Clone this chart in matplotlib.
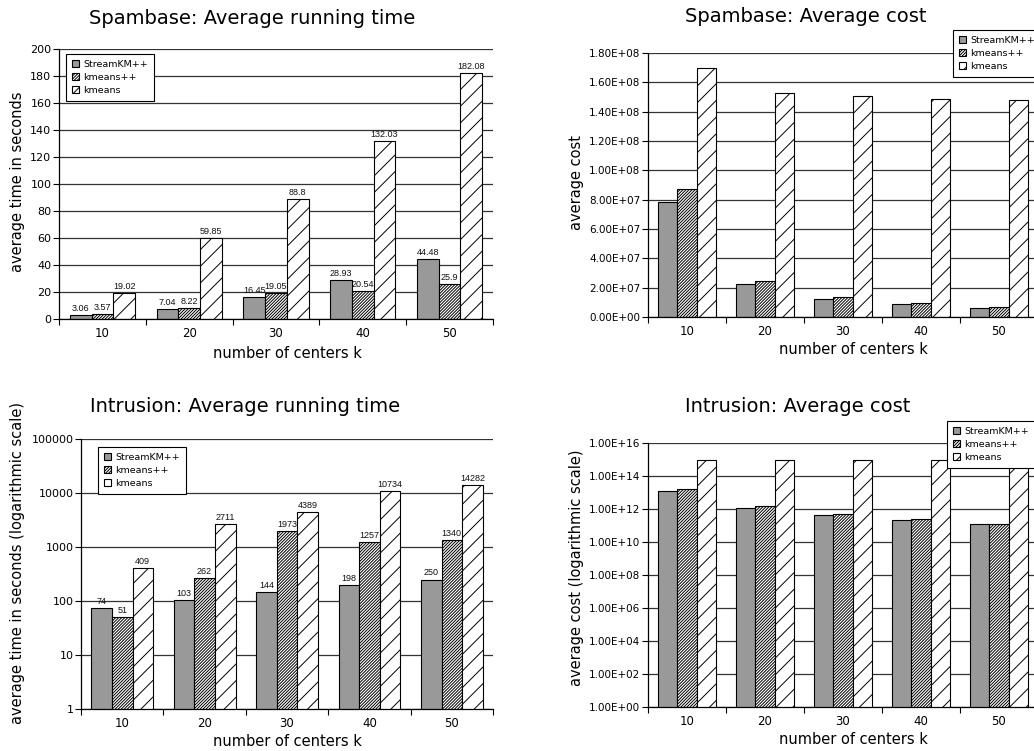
import numpy as np
import matplotlib
matplotlib.use('Agg')
import matplotlib.pyplot as plt
from matplotlib.ticker import NullLocator
from matplotlib.patches import Patch

# ---------------- data ----------------
categories = ['10', '20', '30', '40', '50']
series = ['StreamKM++', 'kmeans++', 'kmeans']

spam_time_streamkm = [3.06, 7.04, 16.45, 28.93, 44.48]
spam_time_kmeanspp = [3.57, 8.22, 19.05, 20.54, 25.9]
spam_time_kmeans = [19.02, 59.85, 88.8, 132.03, 182.08]

spam_cost_streamkm = [7.82e7, 2.28e7, 1.26e7, 8.7e6, 6.4e6]
spam_cost_kmeanspp = [8.71e7, 2.46e7, 1.35e7, 9.4e6, 6.6e6]
spam_cost_kmeans = [1.698e8, 1.527e8, 1.504e8, 1.483e8, 1.481e8]

intr_time_streamkm = [74, 103, 144, 198, 250]
intr_time_kmeanspp = [51, 262, 1973, 1257, 1340]
intr_time_kmeans = [409, 2711, 4389, 10734, 14282]

intr_cost_streamkm = [1.3e13, 1.2e12, 4.4e11, 2.1e11, 1.15e11]
intr_cost_kmeanspp = [1.7e13, 1.5e12, 5.3e11, 2.4e11, 1.3e11]
intr_cost_kmeans = [9.5e14, 9.5e14, 9.5e14, 9.5e14, 9.5e14]

spam_time_ticks = [0, 20, 40, 60, 80, 100, 120, 140, 160, 180, 200]
spam_time_ticklabels = ['0', '20', '40', '60', '80', '100', '120', '140', '160', '180', '200']
spam_cost_ticks = [0, 2e7, 4e7, 6e7, 8e7, 1e8, 1.2e8, 1.4e8, 1.6e8, 1.8e8]
spam_cost_ticklabels = ['0.00E+00', '2.00E+07', '4.00E+07', '6.00E+07', '8.00E+07',
                        '1.00E+08', '1.20E+08', '1.40E+08', '1.60E+08', '1.80E+08']
intr_time_ticks = [1, 10, 100, 1000, 10000, 100000]
intr_time_ticklabels = ['1', '10', '100', '1000', '10000', '100000']
intr_cost_ticks = [1e0, 1e2, 1e4, 1e6, 1e8, 1e10, 1e12, 1e14, 1e16]
intr_cost_ticklabels = ['1.00E+00', '1.00E+02', '1.00E+04', '1.00E+06', '1.00E+08',
                        '1.00E+10', '1.00E+12', '1.00E+14', '1.00E+16']

titles = ['Spambase: Average running time', 'Spambase: Average cost',
          'Intrusion: Average running time', 'Intrusion: Average cost']
ylabels = ['average time in seconds', 'average cost',
           'average time in seconds (logarithmic scale)', 'average cost (logarithmic scale)']
xlabel = 'number of centers k'

# ---------------- figure ----------------
W, H = 1034, 751
plt.rcParams['hatch.linewidth'] = 0.7
plt.rcParams['font.family'] = 'DejaVu Sans'
fig = plt.figure(figsize=(W / 100, H / 100), dpi=100)


def px_rect(l, r, t, b):
    return [l / W, 1 - b / H, (r - l) / W, (b - t) / H]


fills = ['#999999', 'white', 'white']
hatches = ['', '/' * 11, '//']


def draw(ax, groups, log, ticks, ticklabels, ylim, show_labels, ytick_fs, xtick_fs, legend_xy):
    x = np.arange(len(categories))
    w = 0.25
    if log:
        ax.set_yscale('log')
    for j, vals in enumerate(groups):
        bars = ax.bar(x + (j - 1) * w, vals, w, facecolor=fills[j], edgecolor='black',
                      linewidth=0.8, label=series[j], zorder=2)
        for p in bars.patches:
            p.set_hatch(hatches[j])
        if show_labels:
            for xi, v in zip(x, vals):
                ax.annotate(f'{v:g}', xy=(xi + (j - 1) * w, v), xytext=(0, 1.5),
                            textcoords='offset points', ha='center', va='bottom',
                            fontsize=6.5, family='Liberation Sans', color='#111111')
    handles = [Patch(facecolor=fills[j], edgecolor='black', linewidth=0.8,
                     hatch=hatches[j], label=series[j]) for j in range(3)]
    ax.set_xlim(-0.5, len(categories) - 0.5)
    ax.set_ylim(*ylim)
    ax.set_yticks(ticks)
    ax.set_yticklabels(ticklabels, fontsize=ytick_fs)
    ax.yaxis.set_minor_locator(NullLocator())
    ax.set_xticks(x)
    ax.set_xticklabels(categories, fontsize=xtick_fs)
    ax.set_xticks(np.arange(-0.5, len(categories) + 0.5, 1), minor=True)
    ax.tick_params(axis='x', which='major', length=0, pad=6)
    ax.tick_params(axis='x', which='minor', length=4, width=0.8, direction='out')
    ax.tick_params(axis='y', which='major', length=4.5, width=0.8, direction='out', pad=1)
    ax.grid(axis='y', color='#333333', linewidth=0.9)
    ax.set_axisbelow(True)
    for s in ['top', 'right']:
        ax.spines[s].set_visible(False)
    for s in ['left', 'bottom']:
        ax.spines[s].set_linewidth(0.9)
    leg = ax.legend(handles=handles, loc='upper left',
                    bbox_to_anchor=(legend_xy[0] / W, 1 - legend_xy[1] / H),
                    bbox_transform=fig.transFigure, borderaxespad=0,
                    fontsize=6.8, handlelength=0.8, handleheight=0.8, handletextpad=0.45,
                    labelspacing=0.45, borderpad=0.6, fancybox=False, framealpha=1,
                    edgecolor='black')
    leg.get_frame().set_linewidth(0.8)
    leg.set_zorder(5)


ax1 = fig.add_axes(px_rect(59, 493, 49, 319))
draw(ax1, [spam_time_streamkm, spam_time_kmeanspp, spam_time_kmeans], False,
     spam_time_ticks, spam_time_ticklabels, (0, 200), True, 8, 8.5, (66, 54))

ax2 = fig.add_axes(px_rect(648, 1038, 53, 317))
draw(ax2, [spam_cost_streamkm, spam_cost_kmeanspp, spam_cost_kmeans], False,
     spam_cost_ticks, spam_cost_ticklabels, (0, 1.8e8), False, 7.5, 8.5, (953, 30))

ax3 = fig.add_axes(px_rect(81, 493, 439, 709))
draw(ax3, [intr_time_streamkm, intr_time_kmeanspp, intr_time_kmeans], True,
     intr_time_ticks, intr_time_ticklabels, (1, 100000), True, 8, 8.5, (98, 447))

ax4 = fig.add_axes(px_rect(648, 1038, 443, 707))
draw(ax4, [intr_cost_streamkm, intr_cost_kmeanspp, intr_cost_kmeans], True,
     intr_cost_ticks, intr_cost_ticklabels, (1, 1e16), False, 7.5, 8.5, (947, 421))

# titles
title_pos = [(252, 18), (806, 16), (245, 407), (798, 407)]
for t, (tx, ty) in zip(titles, title_pos):
    fig.text(tx / W, 1 - ty / H, t, fontsize=14, ha='center', va='center')

# y labels
ylab_pos = [(17.5, 181.5), (576, 182), (17.5, 563), (576, 567.5)]
for t, (tx, ty) in zip(ylabels, ylab_pos):
    fig.text(tx / W, 1 - ty / H, t, fontsize=10.5, ha='center', va='center', rotation=90)

# x labels
xlab_pos = [(287, 358), (853, 354), (287, 746), (853, 744)]
for tx, ty in xlab_pos:
    fig.text(tx / W, 1 - ty / H, xlabel, fontsize=10.5, ha='center', va='baseline')

fig.savefig('out.png', dpi=100)
